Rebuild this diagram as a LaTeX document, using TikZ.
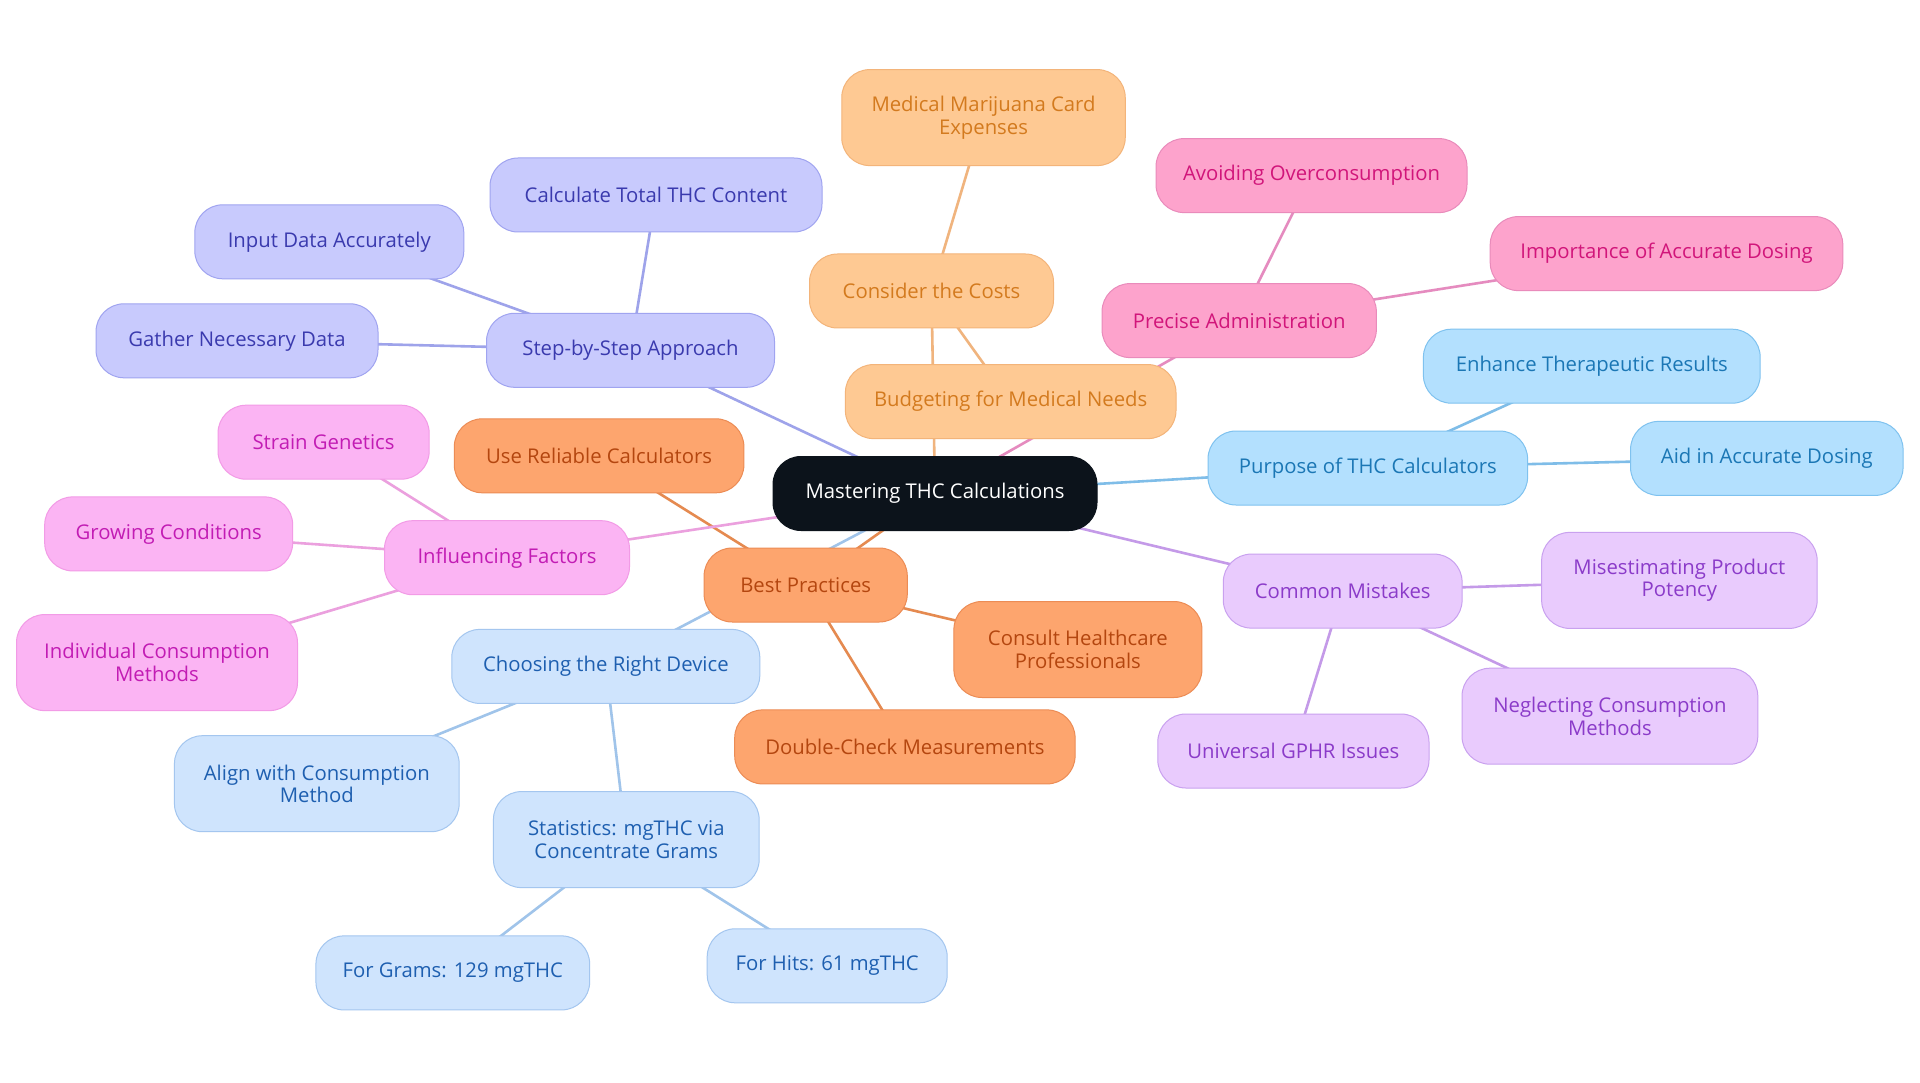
\documentclass[tikz,border=0pt]{standalone}
\usepackage{fontspec}
\setmainfont{Open Sans}
\usetikzlibrary{backgrounds}
\definecolor{rootF}{HTML}{0C131B}
\definecolor{vioF}{HTML}{C8CAFD}\definecolor{vioD}{HTML}{A0A4F0}\definecolor{vioT}{HTML}{3A3AAE}\definecolor{vioL}{HTML}{9EA3EA}
\definecolor{loF}{HTML}{FEC993}\definecolor{loD}{HTML}{F3B47A}\definecolor{loT}{HTML}{D37A1E}\definecolor{loL}{HTML}{F0B47E}
\definecolor{pkF}{HTML}{FDA3CC}\definecolor{pkD}{HTML}{E98BBB}\definecolor{pkT}{HTML}{D1157A}\definecolor{pkL}{HTML}{E58BBF}
\definecolor{lbF}{HTML}{B3E0FE}\definecolor{lbD}{HTML}{7FC2EF}\definecolor{lbT}{HTML}{1B77B5}\definecolor{lbL}{HTML}{7FBDE8}
\definecolor{lvF}{HTML}{E9CBFD}\definecolor{lvD}{HTML}{C9A1EF}\definecolor{lvT}{HTML}{8B3BC9}\definecolor{lvL}{HTML}{C49AE8}
\definecolor{orF}{HTML}{FDA56E}\definecolor{orD}{HTML}{EC8C55}\definecolor{orT}{HTML}{B4460F}\definecolor{orL}{HTML}{E58A50}
\definecolor{mgF}{HTML}{FBB4F3}\definecolor{mgD}{HTML}{F29BE6}\definecolor{mgT}{HTML}{C21CB4}\definecolor{mgL}{HTML}{EBA0DE}
\definecolor{pbF}{HTML}{CFE4FD}\definecolor{pbD}{HTML}{A4C6EF}\definecolor{pbT}{HTML}{1E5FB0}\definecolor{pbL}{HTML}{A0C4EA}
\tikzset{
  mm/.style={rounded corners=28pt, draw, line width=1pt, align=center, inner sep=0pt,
    minimum height=74pt, font=\fontsize{20.3}{22.5}\selectfont},
  two/.style={minimum height=96pt},
  rootbox/.style={mm, fill=rootF, draw=rootF, text=white},
  vio/.style={mm, fill=vioF, draw=vioD, text=vioT},
  lo/.style={mm, fill=loF, draw=loD, text=loT},
  pk/.style={mm, fill=pkF, draw=pkD, text=pkT},
  lb/.style={mm, fill=lbF, draw=lbD, text=lbT},
  lv/.style={mm, fill=lvF, draw=lvD, text=lvT},
  orr/.style={mm, fill=orF, draw=orD, text=orT},
  mg/.style={mm, fill=mgF, draw=mgD, text=mgT},
  pb/.style={mm, fill=pbF, draw=pbD, text=pbT},
  ln/.style={line width=2.6pt},
}
\begin{document}
\begin{tikzpicture}[x=1pt,y=-1pt]
\useasboundingbox (0,0) rectangle (1920,1083);
\node[rootbox, minimum width=324pt] (root) at (935,493.5) {Mastering THC Calculations};
% violet
\node[vio, minimum width=288pt] (step) at (630.5,350.3) {Step-by-Step Approach};
\node[vio, minimum width=332pt] (calc) at (656,195) {Calculate Total THC Content};
\node[vio, minimum width=269pt] (input) at (329.3,241.8) {Input Data Accurately};
\node[vio, minimum width=282pt] (gather) at (237,340.8) {Gather Necessary Data};
% light orange
\node[lo, two, minimum width=283.5pt] (card) at (983.5,117.6) {Medical Marijuana Card\\Expenses};
\node[lo, minimum width=244pt] (costs) at (931.5,291) {Consider the Costs};
\node[lo, minimum width=330.6pt] (budget) at (1010.7,401.6) {Budgeting for Medical Needs};
% pink
\node[pk, minimum width=311pt] (avoid) at (1311.5,175.6) {Avoiding Overconsumption};
\node[pk, minimum width=352.6pt] (import) at (1666.5,253.6) {Importance of Accurate Dosing};
\node[pk, minimum width=274.3pt] (precise) at (1239.2,320.6) {Precise Administration};
% light blue
\node[lb, minimum width=336.8pt] (enhance) at (1591.8,366.2) {Enhance Therapeutic Results};
\node[lb, minimum width=319.6pt] (purpose) at (1367.8,468) {Purpose of THC Calculators};
\node[lb, minimum width=272.5pt] (aid) at (1766.8,458.4) {Aid in Accurate Dosing};
% lavender
\node[lv, minimum width=238.8pt] (common) at (1342.7,591.1) {Common Mistakes};
\node[lv, two, minimum width=275.5pt] (misest) at (1679.4,580.4) {Misestimating Product\\Potency};
\node[lv, two, minimum width=295.8pt] (neglect) at (1609.9,716.2) {Neglecting Consumption\\Methods};
\node[lv, minimum width=271.2pt] (gphr) at (1293.4,751) {Universal GPHR Issues};
% orange
\node[orr, minimum width=203.2pt] (best) at (805.7,585) {Best Practices};
\node[orr, two, minimum width=248pt] (consult) at (1077.9,649.5) {Consult Healthcare\\Professionals};
\node[orr, minimum width=340.4pt] (double) at (904.9,746.9) {Double-Check Measurements};
\node[orr, minimum width=289.6pt] (reliable) at (599.1,455.8) {Use Reliable Calculators};
% magenta
\node[mg, minimum width=245pt] (infl) at (507,557.7) {Influencing Factors};
\node[mg, minimum width=211.2pt] (strain) at (323.6,442.2) {Strain Genetics};
\node[mg, minimum width=248pt] (grow) at (168.7,533.9) {Growing Conditions};
\node[mg, two, minimum width=281pt] (indiv) at (157,662.6) {Individual Consumption\\Methods};
% pale blue
\node[pb, minimum width=308pt] (device) at (605.8,666.4) {Choosing the Right Device};
\node[pb, two, minimum width=284.7pt] (align) at (316.8,783.7) {Align with Consumption\\Method};
\node[pb, two, minimum width=265.7pt] (stats) at (626.3,839.6) {Statistics: mgTHC via\\Concentrate Grams};
\node[pb, minimum width=273.7pt] (grams) at (452.8,972.9) {For Grams: 129 mgTHC};
\node[pb, minimum width=240pt] (hits) at (827.2,965.8) {For Hits: 61 mgTHC};
\begin{scope}[on background layer]
\fill[white] (0,0) rectangle (1920,1083);
\draw[ln, vioL] (root.center) -- (step.center);
\draw[ln, vioL] (step.center) -- (calc.center);
\draw[ln, vioL] (step.center) -- (input.center);
\draw[ln, vioL] (step.center) -- (gather.center);
\draw[ln, loL] (root.center) -- (costs.center);
\draw[ln, loL] (costs.center) -- (card.center);
\draw[ln, loL] (costs.center) -- (budget.center);
\draw[ln, pkL] (root.center) -- (precise.center);
\draw[ln, pkL] (precise.center) -- (avoid.center);
\draw[ln, pkL] (precise.center) -- (import.center);
\draw[ln, lbL] (root.center) -- (purpose.center);
\draw[ln, lbL] (purpose.center) -- (enhance.center);
\draw[ln, lbL] (purpose.center) -- (aid.center);
\draw[ln, lvL] (root.center) -- (common.center);
\draw[ln, lvL] (common.center) -- (misest.center);
\draw[ln, lvL] (common.center) -- (neglect.center);
\draw[ln, lvL] (common.center) -- (gphr.center);
\draw[ln, orL] (root.center) -- (best.center);
\draw[ln, orL] (best.center) -- (reliable.center);
\draw[ln, orL] (best.center) -- (consult.center);
\draw[ln, orL] (best.center) -- (double.center);
\draw[ln, mgL] (root.center) -- (infl.center);
\draw[ln, mgL] (infl.center) -- (strain.center);
\draw[ln, mgL] (infl.center) -- (grow.center);
\draw[ln, mgL] (infl.center) -- (indiv.center);
\draw[ln, pbL] (root.center) -- (device.center);
\draw[ln, pbL] (device.center) -- (align.center);
\draw[ln, pbL] (device.center) -- (stats.center);
\draw[ln, pbL] (stats.center) -- (grams.center);
\draw[ln, pbL] (stats.center) -- (hits.center);
\end{scope}
\end{tikzpicture}
\end{document}
